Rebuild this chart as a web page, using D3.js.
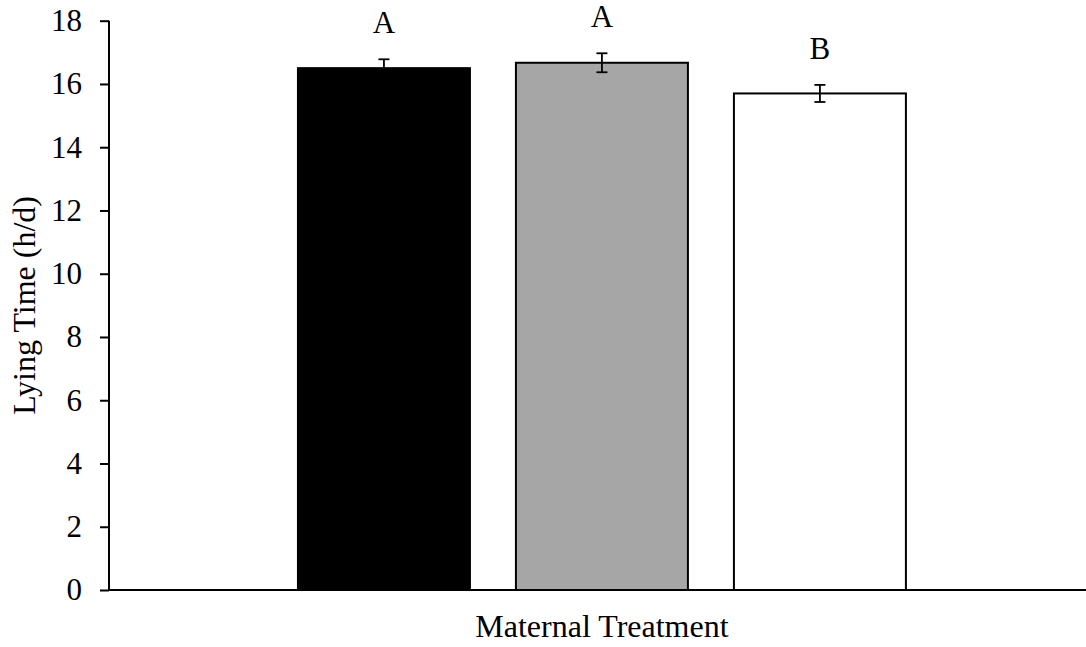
<!DOCTYPE html>
<html>
<head>
<meta charset="utf-8">
<script src="https://cdn.jsdelivr.net/npm/d3@7"></script>
<style>
  html, body { margin: 0; padding: 0; background: #fff; }
  svg { display: block; }
  text { font-family: "Liberation Serif", "Times New Roman", serif; fill: #000; }
</style>
</head>
<body>
<svg id="chart" width="1086" height="647"></svg>
<script>
// Lying time by maternal treatment (mean ± SE) with significance letters
const category = "Maternal Treatment";
const treatments = ["T1", "T2", "T3"];
const lyingTime = [16.5, 16.67, 15.7];
const stdErr = [0.28, 0.3, 0.27];
const letters = ["A", "A", "B"];
const barColors = ["#000000", "#a6a6a6", "#ffffff"];
const yTicks = [0, 2, 4, 6, 8, 10, 12, 14, 16, 18];

const svg = d3.select("#chart");
const plotLeft = 109, plotRight = 1086, plotTop = 20.7, plotBottom = 590;
const fontSize = 31;
const titleSize = 32;

const y = d3.scaleLinear().domain([0, 18]).range([plotBottom, plotTop]);

const x0 = d3.scaleBand()
  .domain([category])
  .range([plotLeft, plotRight])
  .paddingInner(0)
  .paddingOuter(0.3035)
  .align(0.512);

const x1 = d3.scaleBand()
  .domain(treatments)
  .range([x0(category), x0(category) + x0.bandwidth()])
  .paddingInner(0.211)
  .paddingOuter(0);

// Bars
svg.append("g").selectAll("rect")
  .data(treatments)
  .join("rect")
  .attr("x", d => x1(d))
  .attr("y", (d, i) => y(lyingTime[i]))
  .attr("width", x1.bandwidth())
  .attr("height", (d, i) => y(0) - y(lyingTime[i]))
  .attr("fill", (d, i) => barColors[i])
  .attr("stroke", "#000")
  .attr("stroke-width", 2);

// Error bars
const eb = svg.append("g").attr("stroke", "#000").attr("stroke-width", 1.8);
treatments.forEach((t, i) => {
  const cx = x1(t) + x1.bandwidth() / 2;
  const hi = y(lyingTime[i] + stdErr[i]);
  const lo = y(lyingTime[i] - stdErr[i]);
  eb.append("line").attr("x1", cx).attr("x2", cx).attr("y1", hi).attr("y2", lo);
  eb.append("line").attr("x1", cx - 5.5).attr("x2", cx + 5.5).attr("y1", hi).attr("y2", hi);
  eb.append("line").attr("x1", cx - 5.5).attr("x2", cx + 5.5).attr("y1", lo).attr("y2", lo);
});

// Significance letters
svg.append("g").selectAll("text")
  .data(treatments)
  .join("text")
  .attr("x", d => x1(d) + x1.bandwidth() / 2)
  .attr("y", (d, i) => y(lyingTime[i] + stdErr[i]) - 26)
  .attr("text-anchor", "middle")
  .attr("font-size", fontSize)
  .text((d, i) => letters[i]);

// Y axis
const yAxis = svg.append("g")
  .attr("transform", `translate(${plotLeft},0)`)
  .call(d3.axisLeft(y).tickValues(yTicks).tickSize(9).tickPadding(18).tickSizeOuter(0));
yAxis.select(".domain").attr("stroke", "#000").attr("stroke-width", 2)
  .attr("d", `M0,${plotTop}V${plotBottom}`);
yAxis.selectAll(".tick line").attr("stroke", "#000").attr("stroke-width", 2);
yAxis.selectAll(".tick text")
  .attr("font-size", fontSize)
  .attr("font-family", "Liberation Serif, Times New Roman, serif")
  .attr("fill", "#000");

// X axis line
svg.append("line")
  .attr("x1", plotLeft - 1).attr("x2", plotRight)
  .attr("y1", plotBottom).attr("y2", plotBottom)
  .attr("stroke", "#000").attr("stroke-width", 2.2);

// Axis titles
svg.append("text")
  .attr("x", x0(category) + x0.bandwidth() / 2)
  .attr("y", 637)
  .attr("text-anchor", "middle")
  .attr("font-size", titleSize)
  .text(category);

svg.append("text")
  .attr("transform", `translate(35,${(plotTop + plotBottom) / 2}) rotate(-90)`)
  .attr("text-anchor", "middle")
  .attr("font-size", titleSize)
  .text("Lying Time (h/d)");
</script>
</body>
</html>
